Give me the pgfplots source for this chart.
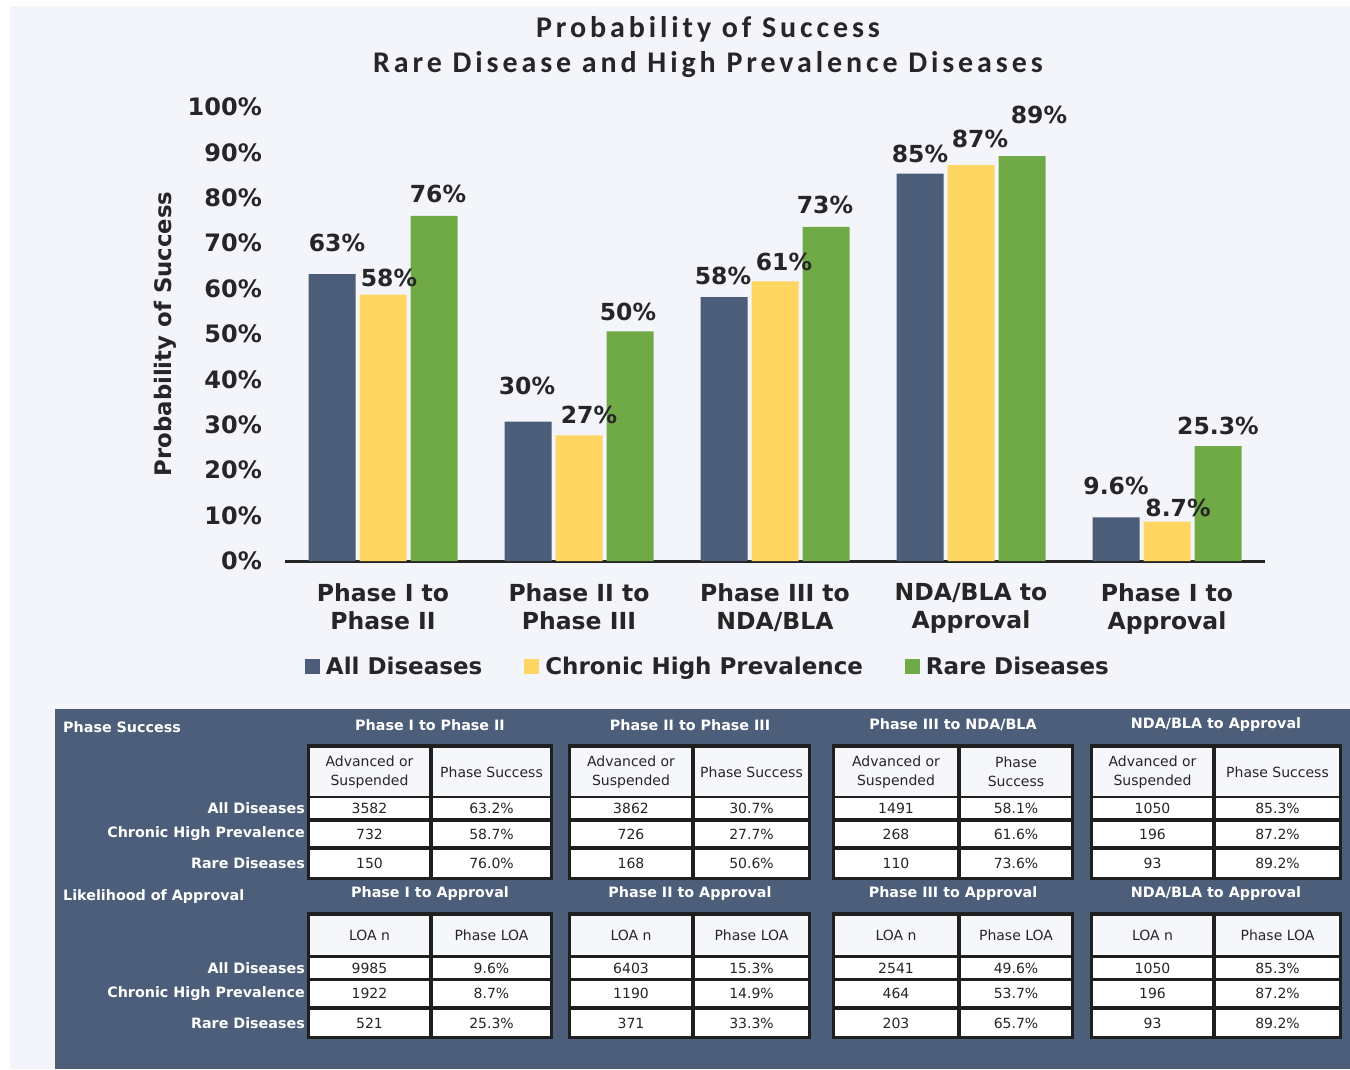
\documentclass[border=0pt]{standalone}
\usepackage{fontspec}
\setmainfont{DejaVu Sans}
\newfontfamily\titlefont[LetterSpace=13]{Carlito}
\usepackage{pgfplots}
\usepackage{pgfplotstable}
\pgfplotsset{compat=1.18}
\definecolor{cdark}{HTML}{4B5D79}
\definecolor{cyel}{HTML}{FED661}
\definecolor{cgreen}{HTML}{6FAA46}
\definecolor{bgc}{HTML}{F3F5FA}
\definecolor{tbl}{HTML}{4C5E79}
\definecolor{txt}{HTML}{262626}
\definecolor{hdrcell}{HTML}{F6F7FB}

\pgfplotstableread{
x y lab dx dy
0 63.2 63 5 31
1 30.7 30 -1 36
2 58.1 58 -1 21
3 85.3 85 0 20
4 9.6 9.6 0 31
}\dark
\pgfplotstableread{
x y lab dx dy
0 58.7 58 6 17
1 27.7 27 10 20
2 61.6 61 9 19
3 87.2 87 9 26
4 8.7 8.7 11 14
}\yel
\pgfplotstableread{
x y lab dx dy
0 76.0 76 4 22
1 50.6 50 -2 19
2 73.6 73 -1 22
3 89.2 89 17 41
4 25.3 25.3 0 20
}\grn

\tikzset{
 hdrw/.style={font=\fontsize{14.3}{17}\selectfont\bfseries, text=white, inner sep=0pt},
 hdr/.style={font=\fontsize{14}{19}\selectfont, text=txt, align=center, inner sep=0pt},
 cel/.style={font=\fontsize{14}{17}\selectfont, text=txt, inner sep=0pt}
}

\begin{document}
\begin{tikzpicture}
\useasboundingbox (0,0) rectangle (1350pt,-1069pt);
\fill[white] (0,0) rectangle (1350pt,-1069pt);
\fill[bgc] (10pt,-6pt) rectangle (1350pt,-1069pt);
\fill[tbl] (55pt,-709pt) rectangle (1350pt,-1069pt);
\node[font=\titlefont\bfseries\fontsize{30}{35}\selectfont, text=txt, align=center, inner sep=0pt] at (708pt,-47pt)
  {Probability of Success\\Rare Disease and High Prevalence Diseases};

\begin{axis}[
 at={(285pt,-561pt)}, anchor=south west,
 scale only axis, width=980pt, height=454pt,
 xmin=-0.5, xmax=4.5, ymin=0, ymax=100,
 ybar=4pt, bar width=47pt,
 axis lines*=left,
 x axis line style={line width=3pt, draw=black!85, -},
 y axis line style={draw=none},
 major tick length=0pt,
 ytick={0,10,...,100},
 yticklabel={\pgfmathprintnumber{\tick}\%},
 yticklabel style={font=\fontsize{24}{24}\selectfont\bfseries, text=txt, inner sep=0pt, xshift=-23pt, /pgf/number format/assume math mode=true},
 xtick={0,...,4},
 xticklabels={{Phase I to\\Phase II},{Phase II to\\Phase III},{Phase III to\\NDA/BLA},{NDA/BLA to\\Approval},{Phase I to\\Approval}},
 xticklabel style={align=center, font=\fontsize{23.5}{28}\selectfont\bfseries, text=txt, inner sep=0pt, yshift=-22pt},
 ylabel={Probability of Success},
 every axis y label/.style={at={(axis description cs:-0.1224,0.5)}, rotate=90, anchor=center,
   font=\fontsize{22.8}{24}\selectfont\bfseries, text=txt},
 clip=false,
 point meta=explicit symbolic,
 nodes near coords={\pgfplotspointmeta\%},
 visualization depends on={\thisrow{dx} \as \ldx},
 visualization depends on={\thisrow{dy} \as \ldy},
 every node near coord/.append style={anchor=center, inner sep=0pt, font=\fontsize{23.5}{24}\selectfont\bfseries, text=txt, xshift=\ldx pt, yshift=\ldy pt},
 legend style={at={(axis description cs:0.4316,-0.2313)}, anchor=center, draw=none, fill=none,
   font=\fontsize{23}{23}\selectfont\bfseries, text=txt,
   /tikz/every odd column/.append style={column sep=4pt},
   /tikz/every even column/.append style={column sep=40pt}},
 legend columns=-1,
]
\addplot[fill=cdark, draw=none, legend image code/.code={\fill[cdark] (0pt,-7.5pt) rectangle (15pt,7.5pt);}] table[x=x, y=y, meta=lab] {\dark};
\addplot[fill=cyel, draw=none, legend image code/.code={\fill[cyel] (0pt,-7.5pt) rectangle (15pt,7.5pt);}] table[x=x, y=y, meta=lab] {\yel};
\addplot[fill=cgreen, draw=none, legend image code/.code={\fill[cgreen] (0pt,-7.5pt) rectangle (15pt,7.5pt);}] table[x=x, y=y, meta=lab] {\grn};
\legend{All Diseases, Chronic High Prevalence, Rare Diseases}
\end{axis}

\begin{scope}[x=1pt, y=-1pt]
% boxes
\foreach \xl/\xs/\xr in {307/431/553, 568/693/811, 832/959/1074, 1090/1214/1342}{
  \fill[black!88] (\xl,744) rectangle (\xr,880);
  \fill[black!88] (\xl,912) rectangle (\xr,1039);
  \foreach \ya/\yb/\cc in {748/796/hdrcell, 798/818/white, 822/846/white, 850/877/white,
                           916/955/hdrcell, 958/978/white, 981/1006/white, 1010/1036/white}{
    \fill[\cc] ({\xl+3},\ya) rectangle ({\xs-2},\yb);
    \fill[\cc] ({\xs+2},\ya) rectangle ({\xr-3},\yb);
  }
}
% section titles
\node[hdrw, anchor=west] at (63,727) {Phase Success};
\node[hdrw, anchor=west] at (63,897) {Likelihood of Approval};
\foreach \cx/\ta/\tb in {430/{Phase I to Phase II}/{Phase I to Approval},
                         690/{Phase II to Phase III}/{Phase II to Approval},
                         953/{Phase III to NDA/BLA}/{Phase III to Approval},
                         1216/{NDA/BLA to Approval}/{NDA/BLA to Approval}}{
  \node[hdrw] at (\cx,725) {\ta};
  \node[hdrw] at (\cx,894) {\tb};
}
% row labels
\foreach \yy/\tt in {808/All Diseases, 834/Chronic High Prevalence, 863.5/Rare Diseases,
                     968/All Diseases, 993.5/Chronic High Prevalence, 1023/Rare Diseases}{
  \node[hdrw, anchor=east] at (305,\yy) {\tt};
}
% section 1 cells
\foreach \xl/\xs/\xr/\hb/\va/\pa/\vb/\pb/\vc/\pc in {
 307/431/553/{Phase Success}/3582/63.2/732/58.7/150/76.0,
 568/693/811/{Phase Success}/3862/30.7/726/27.7/168/50.6,
 832/959/1074/{Phase\\Success}/1491/58.1/268/61.6/110/73.6,
 1090/1214/1342/{Phase Success}/1050/85.3/196/87.2/93/89.2}{
  \pgfmathsetmacro\ca{(\xl+\xs+1)/2}
  \pgfmathsetmacro\cb{(\xs+\xr-1)/2}
  \node[hdr] at (\ca,772) {Advanced or\\Suspended};
  \node[hdr] at (\cb,772) {\hb};
  \node[cel] at (\ca,808) {\va};
  \node[cel] at (\cb,808) {\pa\%};
  \node[cel] at (\ca,834) {\vb};
  \node[cel] at (\cb,834) {\pb\%};
  \node[cel] at (\ca,863.5) {\vc};
  \node[cel] at (\cb,863.5) {\pc\%};
}
% section 2 cells
\foreach \xl/\xs/\xr/\va/\pa/\vb/\pb/\vc/\pc in {
 307/431/553/9985/9.6/1922/8.7/521/25.3,
 568/693/811/6403/15.3/1190/14.9/371/33.3,
 832/959/1074/2541/49.6/464/53.7/203/65.7,
 1090/1214/1342/1050/85.3/196/87.2/93/89.2}{
  \pgfmathsetmacro\ca{(\xl+\xs+1)/2}
  \pgfmathsetmacro\cb{(\xs+\xr-1)/2}
  \node[hdr] at (\ca,935.5) {LOA n};
  \node[hdr] at (\cb,935.5) {Phase LOA};
  \node[cel] at (\ca,968) {\va};
  \node[cel] at (\cb,968) {\pa\%};
  \node[cel] at (\ca,993.5) {\vb};
  \node[cel] at (\cb,993.5) {\pb\%};
  \node[cel] at (\ca,1023) {\vc};
  \node[cel] at (\cb,1023) {\pc\%};
}
\end{scope}
\end{tikzpicture}
\end{document}
